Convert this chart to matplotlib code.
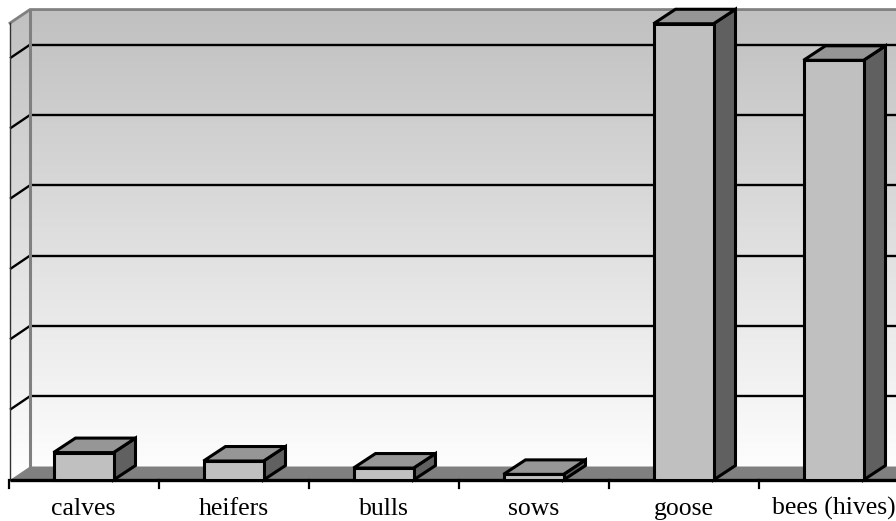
import matplotlib
matplotlib.use('Agg')
import matplotlib.pyplot as plt
import numpy as np
from matplotlib.patches import Polygon
from matplotlib.colors import LinearSegmentedColormap

categories = ["calves", "heifers", "bulls", "sows", "goose", "bees (hives)"]
values = [39, 27, 17, 8, 649, 597]
grid_values = [100, 200, 300, 400, 500, 600]
axis_max = 650

PX_X = 150.0   # pixels per category
PX_Y = 0.703   # pixels per value unit
X0_PX, Y0_PX = 83.5, 480.0

fig = plt.figure(figsize=(8.96, 5.21), dpi=100)
ax = fig.add_axes([0, 0, 1, 1])
xlim = ((0 - X0_PX) / PX_X, (896 - X0_PX) / PX_X)
ylim = ((Y0_PX - 521) / PX_Y, Y0_PX / PX_Y)

# depth offsets
fdx, fdy = 20 / PX_X, 13.5 / PX_Y
bdx, bdy = 22 / PX_X, 14.5 / PX_Y
half_w = 30 / PX_X

xl = (10 - X0_PX) / PX_X
xr = 6.2

# walls gradient
cmap = LinearSegmentedColormap.from_list('wall', ['#c0c0c0', '#ffffff'])
grad = np.linspace(0, 1, 256).reshape(-1, 1)
im = ax.imshow(grad, cmap=cmap, extent=[xl, xr, 0, axis_max + fdy],
               origin='upper', aspect='auto', zorder=0, interpolation='bilinear')
clip = Polygon([(xl, 0), (xl, axis_max), (xl + fdx, axis_max + fdy),
                (xr, axis_max + fdy), (xr, fdy), (xl + fdx, fdy)],
               closed=True, transform=ax.transData, facecolor='none', edgecolor='none')
ax.add_patch(clip)
im.set_clip_path(clip)

# gridlines
for g in grid_values:
    ax.plot([xl + fdx, xr], [g + fdy, g + fdy], color='black', lw=1.7, zorder=1,
            solid_capstyle='butt')
    ax.plot([xl, xl + fdx], [g, g + fdy], color='black', lw=1.7, zorder=1,
            solid_capstyle='butt')

# wall edges
ax.plot([xl + fdx, xl + fdx], [fdy, axis_max + fdy], color='#808080', lw=2.2, zorder=1.5)
ax.plot([xl, xl + fdx, xr], [axis_max, axis_max + fdy, axis_max + fdy],
        color='#808080', lw=2, zorder=1.5)
ax.plot([xl, xl], [0, axis_max], color='#303030', lw=1, zorder=1.5)

# floor
ax.add_patch(Polygon([(xl, 0), (xl + fdx, fdy), (xr, fdy), (xr, 0)], closed=True,
                     facecolor='#808080', edgecolor='none', zorder=2))
ax.plot([xl, xr], [0, 0], color='black', lw=2.4, zorder=3, solid_capstyle='butt')
for i in range(len(categories) + 1):
    ax.plot([i - 0.5, i - 0.5], [0, -8 / PX_Y], color='black', lw=1.6, zorder=3)

# bars
for i, v in enumerate(values):
    l, r = i - half_w, i + half_w
    kw = dict(closed=True, edgecolor='black', lw=2.2, joinstyle='miter', zorder=4 + i)
    ax.add_patch(Polygon([(r, 0), (r, v), (r + bdx, v + bdy), (r + bdx, bdy)],
                         facecolor='#606060', **kw))
    ax.add_patch(Polygon([(l, v), (r, v), (r + bdx, v + bdy), (l + bdx, v + bdy)],
                         facecolor='#969696', **kw))
    ax.add_patch(Polygon([(l, 0), (r, 0), (r, v), (l, v)],
                         facecolor='#c0c0c0', **kw))

# labels
for i, c in enumerate(categories):
    ax.text(i, (Y0_PX - 515) / PX_Y, c, ha='center', va='baseline',
            family='Liberation Serif', fontsize=18.5, color='black')

ax.set_xlim(*xlim)
ax.set_ylim(*ylim)
ax.axis('off')
fig.savefig('out.png', dpi=100)
